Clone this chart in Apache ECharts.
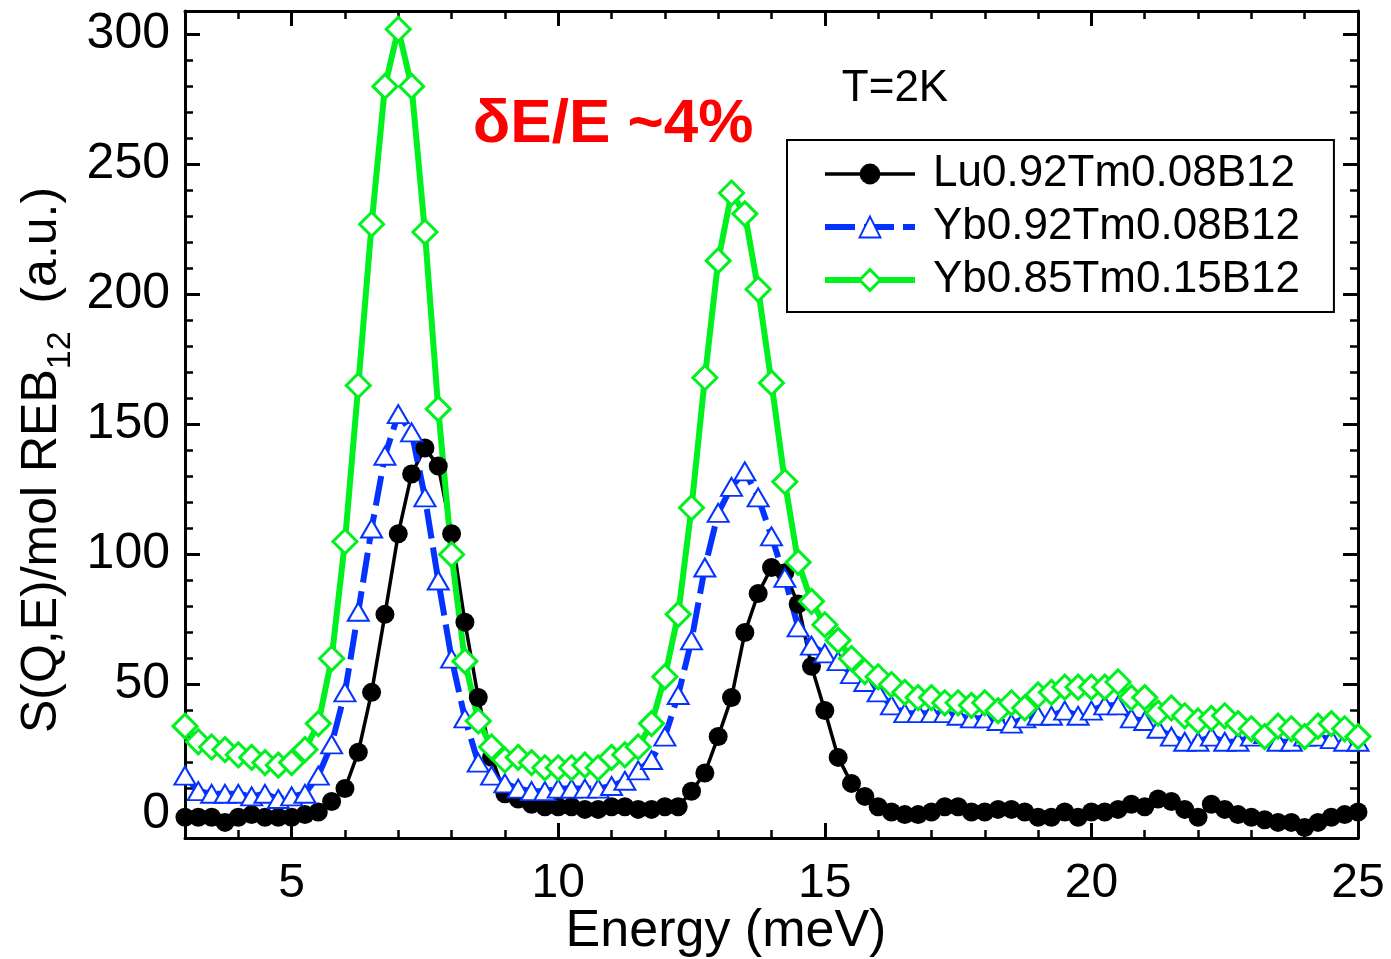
<!DOCTYPE html>
<html>
<head>
<meta charset="utf-8">
<script src="https://cdn.jsdelivr.net/npm/echarts@6/dist/echarts.min.js"></script>
<style>
  html, body { margin: 0; background: #fff; }
  #chart { width: 1391px; height: 959px; }
</style>
</head>
<body>
<div id="chart"></div>
<script>
// energy grid (meV)
const energy = [
  3, 3.25, 3.5, 3.75, 4, 4.25, 4.5, 4.75, 5, 5.25, 5.5, 5.75,
  6, 6.25, 6.5, 6.75, 7, 7.25, 7.5, 7.75, 8, 8.25, 8.5, 8.75,
  9, 9.25, 9.5, 9.75, 10, 10.25, 10.5, 10.75, 11, 11.25, 11.5, 11.75,
  12, 12.25, 12.5, 12.75, 13, 13.25, 13.5, 13.75, 14, 14.25, 14.5, 14.75,
  15, 15.25, 15.5, 15.75, 16, 16.25, 16.5, 16.75, 17, 17.25, 17.5, 17.75,
  18, 18.25, 18.5, 18.75, 19, 19.25, 19.5, 19.75, 20, 20.25, 20.5, 20.75,
  21, 21.25, 21.5, 21.75, 22, 22.25, 22.5, 22.75, 23, 23.25, 23.5, 23.75,
  24, 24.25, 24.5, 24.75, 25
];

// S(Q,E) values
const luTm008 = [
  -1, -1, -1, -3, -1, 0, -1, -1, -1, 0, 1, 5,
  10, 24, 47, 77, 108, 131, 141, 134, 108, 74, 45, 22,
  8, 6, 4, 3, 3, 3, 2, 2, 3, 3, 2, 2,
  3, 3, 9, 16, 30, 45, 70, 85, 95, 93, 81, 57,
  40, 22, 12, 7, 3, 1, 0, 0, 1, 3, 3, 1,
  1, 2, 2, 1, -1, -1, 1, -1, 1, 1, 2, 4,
  3, 6, 5, 2, -1, 4, 2, 0, -1, -2, -3, -3,
  -5, -3, -1, 0, 1
];
const ybTm008 = [
  15, 9, 8, 8, 8, 7, 8, 6, 7, 8, 15, 27,
  47, 78, 110, 138, 154, 147, 122, 90, 60, 37, 20, 15,
  12, 10, 9, 9, 10, 10, 10, 10, 11, 13, 17, 21,
  30, 46, 67, 95, 116, 126, 132, 122, 107, 91, 72, 65,
  62, 59, 54, 51, 47, 42, 39, 39, 39, 39, 38, 37,
  37, 36, 35, 37, 38, 38, 40, 38, 40, 42, 42, 37,
  36, 33, 30, 28, 28, 30, 28, 28, 30, 31, 28, 28,
  30, 30, 29, 28, 28
];
const ybTm015 = [
  34, 28, 26, 25, 23, 22, 20, 19, 20, 25, 35, 60,
  105, 165, 227, 280, 302, 280, 224, 156, 100, 59, 36, 26,
  21, 22, 20, 18, 18, 18, 19, 18, 22, 23, 26, 35,
  53, 77, 118, 168, 213, 239, 231, 202, 166, 128, 97, 82,
  73, 67, 60, 55, 53, 50, 47, 45, 45, 43, 43, 42,
  43, 40, 43, 41, 46, 47, 49, 49, 49, 49, 51, 45,
  45, 39, 41, 38, 36, 37, 38, 35, 33, 30, 34, 33,
  30, 34, 35, 33, 30
];

const seriesNames = ['Lu0.92Tm0.08B12', 'Yb0.92Tm0.08B12', 'Yb0.85Tm0.15B12'];

// tick positions
const xMajor = [5, 10, 15, 20, 25];
const xMinor = [3, 4, 5, 6, 7, 8, 9, 10, 11, 12, 13, 14, 15, 16, 17, 18, 19, 20, 21, 22, 23, 24, 25];
const yMajor = [0, 50, 100, 150, 200, 250, 300];
const yMinor = [0, 10, 20, 30, 40, 50, 60, 70, 80, 90, 100, 110, 120, 130, 140, 150,
  160, 170, 180, 190, 200, 210, 220, 230, 240, 250, 260, 270, 280, 290, 300];

const FONT = '"Liberation Sans", Arial, sans-serif';

function pairs(ys) {
  return energy.map((x, i) => [x, ys[i]]);
}

function frameAxis(position, ticks, len, major, extra) {
  const ax = {
    type: 'value',
    position: position,
    splitLine: { show: false },
    axisLine: { show: major, onZero: false, lineStyle: { color: '#000', width: 3 } },
    axisTick: {
      show: true, inside: true, length: len, customValues: ticks,
      lineStyle: { color: '#000', width: major ? 3 : 2.5 }
    },
    axisLabel: { show: false },
    axisPointer: { show: false }
  };
  return Object.assign(ax, extra || {});
}

const chart = echarts.init(document.getElementById('chart'));

const xRange = { min: 3, max: 25 };
const yRange = { min: -9, max: 309 };

chart.setOption({
  animation: false,
  backgroundColor: '#fff',
  textStyle: { fontFamily: FONT },
  grid: { left: 185, right: 33, top: 11, bottom: 121, outerBoundsMode: 'none' },
  xAxis: [
    frameAxis('bottom', xMajor, 15, true, Object.assign({
      axisLabel: { show: true, customValues: xMajor, fontSize: 48, color: '#000', margin: 22, fontFamily: FONT }
    }, xRange)),
    frameAxis('bottom', xMinor, 8, false, Object.assign({}, xRange)),
    frameAxis('top', xMajor, 15, true, Object.assign({}, xRange)),
    frameAxis('top', xMinor, 8, false, Object.assign({}, xRange))
  ],
  yAxis: [
    frameAxis('left', yMajor, 15, true, Object.assign({
      axisLabel: { show: true, customValues: yMajor, fontSize: 50, color: '#000', margin: 15, fontFamily: FONT }
    }, yRange)),
    frameAxis('left', yMinor, 8, false, Object.assign({}, yRange)),
    frameAxis('right', yMajor, 15, true, Object.assign({}, yRange)),
    frameAxis('right', yMinor, 8, false, Object.assign({}, yRange))
  ],
  legend: {
    orient: 'vertical',
    left: 787, top: 140,
    padding: [12, 34, 10, 35],
    borderColor: '#000', borderWidth: 2,
    itemWidth: 90, itemHeight: 26, itemGap: 9,
    lineStyle: { width: 'inherit' },
    itemStyle: { borderWidth: 'inherit' },
    textStyle: { fontSize: 44, color: '#000', fontFamily: FONT, lineHeight: 44, padding: [0, 0, 0, 13] },
    data: seriesNames
  },
  graphic: [
    {
      type: 'text', x: 726, y: 932,
      style: { text: 'Energy (meV)', fill: '#000', fontSize: 52, fontFamily: FONT, align: 'center', verticalAlign: 'middle' }
    },
    {
      type: 'text', x: 42, y: 460, rotation: Math.PI / 2,
      style: {
        text: '{a|S(Q,E)/mol REB}{sub|12}{a|  (a.u.)}',
        fill: '#000', fontFamily: FONT, align: 'center', verticalAlign: 'middle',
        rich: {
          a: { fontSize: 50, fill: '#000', fontFamily: FONT, verticalAlign: 'middle' },
          sub: { fontSize: 34, fill: '#000', fontFamily: FONT, verticalAlign: 'bottom', padding: [38, 0, 0, 0] }
        }
      }
    },
    {
      type: 'text', x: 613, y: 125,
      style: { text: 'δE/E ~4%', fill: '#ff0000', fontSize: 62, fontWeight: 'bold', fontFamily: FONT, align: 'center', verticalAlign: 'middle' }
    },
    {
      type: 'text', x: 895, y: 89,
      style: { text: 'T=2K', fill: '#000', fontSize: 44, fontFamily: FONT, align: 'center', verticalAlign: 'middle' }
    }
  ],
  series: [
    {
      name: seriesNames[0], type: 'line', data: pairs(luTm008),
      symbol: 'circle', symbolSize: 19, showAllSymbol: true,
      lineStyle: { color: '#000', width: 3.5 },
      itemStyle: { color: '#000' }
    },
    {
      name: seriesNames[1], type: 'line', data: pairs(ybTm008),
      symbol: 'triangle', symbolSize: [21, 18], showAllSymbol: true,
      lineStyle: { color: '#0433ff', width: 6, type: [30, 9] },
      itemStyle: { color: '#fff', borderColor: '#0433ff', borderWidth: 2 }
    },
    {
      name: seriesNames[2], type: 'line', data: pairs(ybTm015),
      symbol: 'diamond', symbolSize: 24, showAllSymbol: true,
      lineStyle: { color: '#00f020', width: 6 },
      itemStyle: { color: '#fff', borderColor: '#00f020', borderWidth: 3 }
    }
  ]
});
</script>
</body>
</html>
